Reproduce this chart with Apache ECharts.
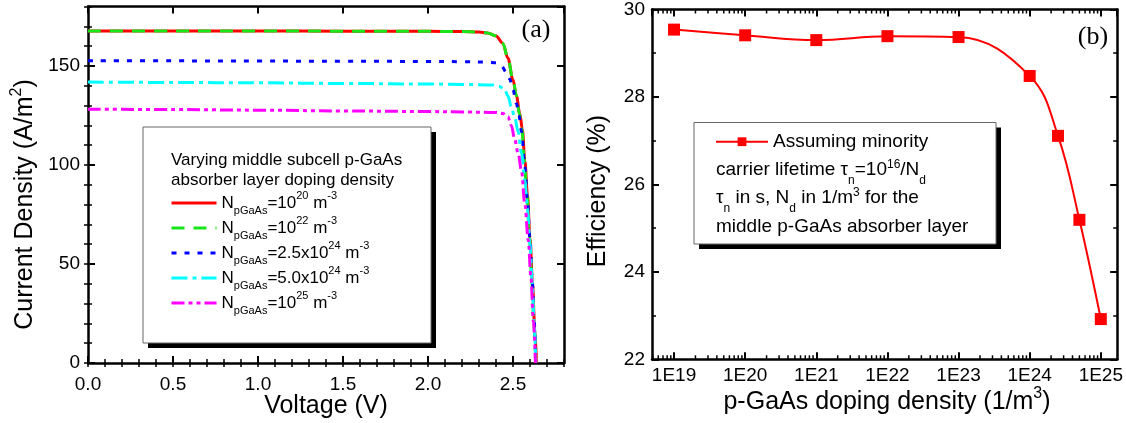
<!DOCTYPE html>
<html>
<head>
<meta charset="utf-8">
<script src="https://cdn.jsdelivr.net/npm/echarts@6.0.0/dist/echarts.min.js"></script>
<style>
html,body{margin:0;padding:0;background:#fff;}
#chart{width:1126px;height:423px;}
</style>
</head>
<body>
<div id="chart"></div>
<script>
// ---------------- Panel (a): J-V curves ----------------
const vRed   = [0, 0.5, 1.0, 1.5, 2.0, 2.2, 2.3, 2.35, 2.40, 2.44, 2.47, 2.50, 2.52, 2.54, 2.555, 2.57, 2.585, 2.60, 2.615, 2.627, 2.638];
const jRed   = [167.7, 167.7, 167.7, 167.6, 167.5, 167.4, 167.2, 166.7, 165.2, 161.5, 154, 143, 135, 126, 118, 102, 85, 63, 40, 19, 0];
const vGreen = [0, 0.5, 1.0, 1.5, 2.0, 2.2, 2.3, 2.35, 2.40, 2.44, 2.47, 2.50, 2.52, 2.537, 2.552, 2.567, 2.582, 2.597, 2.611, 2.623, 2.634];
const jGreen = [167.7, 167.7, 167.7, 167.6, 167.5, 167.4, 167.2, 166.7, 165.2, 161.5, 154, 143, 135, 126, 118, 102, 85, 63, 40, 19, 0];
const vBlue  = [0, 0.5, 1.0, 1.5, 2.0, 2.2, 2.35, 2.40, 2.43, 2.46, 2.48, 2.50, 2.52, 2.535, 2.55, 2.57, 2.585, 2.60, 2.613, 2.624, 2.634];
const jBlue  = [152.7, 152.6, 152.5, 152.4, 152.3, 152.2, 152.0, 151.6, 150.3, 147, 143.5, 138, 131, 125, 117, 99, 82, 62, 42, 22, 0];
const vCyan  = [0, 0.5, 1.0, 1.5, 2.0, 2.2, 2.38, 2.42, 2.45, 2.47, 2.49, 2.51, 2.53, 2.55, 2.57, 2.585, 2.60, 2.613, 2.624, 2.634];
const jCyan  = [141.9, 141.7, 141.5, 141.2, 140.9, 140.7, 140.4, 139.7, 138.3, 135, 129.5, 124, 117, 106, 92, 78, 60, 41, 21, 0];
const vMag   = [0, 0.5, 1.0, 1.5, 2.0, 2.2, 2.40, 2.44, 2.47, 2.49, 2.51, 2.53, 2.55, 2.57, 2.59, 2.605, 2.62, 2.632];
const jMag   = [128.2, 128.0, 127.7, 127.3, 127.0, 126.8, 126.5, 126.0, 124.5, 120, 113, 106, 97, 80, 62, 44, 21, 0];

const seriesNamesA = ['N1e20', 'N1e22', 'N2.5e24', 'N5.0e24', 'N1e25'];
const legendLabelsA = [
  '{n|N}{sub|pGaAs}{n|=10}{sup|20}{n| m}{sup|-3}',
  '{n|N}{sub|pGaAs}{n|=10}{sup|22}{n| m}{sup|-3}',
  '{n|N}{sub|pGaAs}{n|=2.5x10}{sup|24}{n| m}{sup|-3}',
  '{n|N}{sub|pGaAs}{n|=5.0x10}{sup|24}{n| m}{sup|-3}',
  '{n|N}{sub|pGaAs}{n|=10}{sup|25}{n| m}{sup|-3}'
];
const legendTitleA = 'Varying middle subcell p-GaAs\nabsorber layer doping density';
const voltageTickLabels = ['0.0', '0.5', '1.0', '1.5', '2.0', '2.5'];
const currentTickLabels = ['0', '50', '100', '150'];

// ---------------- Panel (b): efficiency vs doping ----------------
const dopingDensity = [1e19, 1e20, 1e21, 1e22, 1e23, 1e24, 2.5e24, 5e24, 1e25];
const efficiency    = [29.54, 29.41, 29.30, 29.39, 29.37, 28.48, 27.11, 25.19, 22.92];
const seriesNameB = 'Assuming minority';
const legendLinesB = [
  '{t|carrier lifetime τ}{s|n}{t|=10}{p|16}{t|/N}{s|d}',
  '{t|τ}{s|n}{t| in s, N}{s|d}{t| in 1/m}{p|3}{t| for the}',
  '{t|middle p-GaAs absorber layer}'
];
const dopingTickLabels = ['1E19', '1E20', '1E21', '1E22', '1E23', '1E24', '1E25'];
const efficiencyTickLabels = ['22', '24', '26', '28', '30'];

// ---------------- styling ----------------
const F = 'Liberation Sans, Arial, sans-serif';
const SERIF = 'Liberation Serif, Times New Roman, serif';
const BLACK = '#000';
const colorsA = ['#ff0000', '#19e619', '#0000ff', '#00ffff', '#ff00ff'];
const dashA = ['solid', [13, 9], [5, 8], [16, 5, 4, 5], [13, 4, 4, 4, 4, 4]];

function labelFor(v, start, step, labels) {
  const i = Math.round((v - start) / step);
  if (Math.abs(v - (start + i * step)) > 1e-6 || i < 0 || i >= labels.length) return '';
  return labels[i];
}
const axisLine = { show: true, onZero: false, lineStyle: { color: BLACK, width: 2.5 } };
const majorTick = { show: true, inside: true, length: 7, lineStyle: { color: BLACK, width: 2 } };
const minorTickAxis = { show: true, inside: true, length: 4, lineStyle: { color: BLACK, width: 1.5 } };
const hidden = { show: false };

const chart = echarts.init(document.getElementById('chart'), null, { renderer: 'canvas' });

const A_MIN_X = 0, A_MAX_X = 2.8, A_MIN_Y = 0, A_MAX_Y = 180;
const B_MIN_X = 4.9e18, B_MAX_X = 1.7e25, B_MIN_Y = 22, B_MAX_Y = 30;

function aX(pos, interval, major, label) {
  return {
    gridIndex: 0, type: 'value', min: A_MIN_X, max: A_MAX_X, interval: interval, position: pos,
    axisLine: major ? axisLine : hidden, axisTick: major ? majorTick : minorTickAxis,
    splitLine: hidden, minorTick: hidden,
    axisLabel: label ? { show: true, margin: 12, fontSize: 19, fontFamily: F, color: BLACK, showMaxLabel: false,
      formatter: v => labelFor(v, 0, 0.5, voltageTickLabels) } : hidden
  };
}
function aY(pos, interval, major, label) {
  return {
    gridIndex: 0, type: 'value', min: A_MIN_Y, max: A_MAX_Y, interval: interval, position: pos,
    axisLine: major ? axisLine : hidden, axisTick: major ? majorTick : minorTickAxis,
    splitLine: hidden, minorTick: hidden,
    axisLabel: label ? { show: true, margin: 8, fontSize: 19, fontFamily: F, color: BLACK, showMaxLabel: false,
      formatter: v => labelFor(v, 0, 50, currentTickLabels) } : hidden
  };
}
function bX(pos, label) {
  return {
    gridIndex: 1, type: 'log', logBase: 10, min: B_MIN_X, max: B_MAX_X, position: pos,
    axisLine: axisLine, axisTick: majorTick, splitLine: hidden, minorTick: hidden,
    axisLabel: label ? { show: true, margin: 7, fontSize: 19, fontFamily: F, color: BLACK,
      showMinLabel: false, showMaxLabel: false,
      formatter: v => {
        const l = Math.log10(v), r = Math.round(l);
        if (Math.abs(l - r) > 0.01) return '';
        return dopingTickLabels[r - 19] || '';
      } } : hidden
  };
}
function bY(pos, label) {
  return {
    gridIndex: 1, type: 'value', min: B_MIN_Y, max: B_MAX_Y, interval: 2, position: pos,
    axisLine: axisLine, axisTick: majorTick, splitLine: hidden,
    minorTick: { show: true, splitNumber: 2, length: 4, lineStyle: { color: BLACK, width: 1.5 } },
    axisLabel: label ? { show: true, margin: 7, fontSize: 19, fontFamily: F, color: BLACK,
      formatter: v => labelFor(v, 22, 2, efficiencyTickLabels) } : hidden
  };
}

const seriesA = [[vRed, jRed], [vGreen, jGreen], [vBlue, jBlue], [vCyan, jCyan], [vMag, jMag]].map((d, k) => ({
  type: 'line', name: seriesNamesA[k], xAxisIndex: 0, yAxisIndex: 0,
  data: d[0].map((v, i) => [v, d[1][i]]),
  symbol: 'none', showSymbol: false, smooth: 0.35, smoothMonotone: 'x',
  lineStyle: { color: colorsA[k], width: 3, type: dashA[k] },
  itemStyle: { color: colorsA[k] },
  emphasis: { disabled: true }, z: 2 + k
}));

const seriesB = {
  type: 'line', name: seriesNameB, xAxisIndex: 4, yAxisIndex: 4,
  data: dopingDensity.map((x, i) => [x, efficiency[i]]),
  symbol: 'rect', symbolSize: 12, smooth: 0.4,
  lineStyle: { color: '#ff0000', width: 2 },
  itemStyle: { color: '#ff0000' },
  emphasis: { disabled: true }, clip: false
};

const legendRichA = {
  n: { fontSize: 17, fontFamily: F, color: BLACK, verticalAlign: 'middle' },
  sub: { fontSize: 11, fontFamily: F, color: BLACK, padding: [16, 0, 0, 0], verticalAlign: 'middle' },
  sup: { fontSize: 11, fontFamily: F, color: BLACK, padding: [0, 0, 14, 0], verticalAlign: 'middle' }
};

const option = {
  animation: false,
  backgroundColor: '#ffffff',
  grid: [
    { left: 88, top: 6.6, width: 476, height: 356.4, containLabel: false, show: false },
    { left: 652, top: 7.3, width: 468, height: 352, containLabel: false, show: false }
  ],
  xAxis: [aX('bottom', 0.5, true, true), aX('bottom', 0.1, false, false), aX('top', 0.5, true, false), aX('top', 0.1, false, false),
          bX('bottom', true), bX('top', false)],
  yAxis: [aY('left', 50, true, true), aY('left', 10, false, false), aY('right', 50, true, false), aY('right', 10, false, false),
          bY('left', true), bY('right', false)],
  legend: [
    {
      data: seriesNamesA, orient: 'vertical', left: 170, top: 190.5, padding: 0, itemGap: -1,
      itemWidth: 45, itemHeight: 14, selectedMode: false,
      itemStyle: { opacity: 0 }, lineStyle: { width: 3 },
      formatter: name => legendLabelsA[seriesNamesA.indexOf(name)],
      textStyle: { rich: legendRichA, fontSize: 17, fontFamily: F, color: BLACK }
    },
    {
      data: [seriesNameB], orient: 'vertical', left: 715, top: 131.7, padding: 0,
      itemWidth: 52, itemHeight: 11, selectedMode: false,
      lineStyle: { width: 2 },
      textStyle: { fontSize: 19, lineHeight: 20, fontFamily: F, color: BLACK }
    }
  ],
  series: seriesA.concat([seriesB])
};
chart.setOption(option);

// ---------- decorations (text boxes, titles, log minor ticks) ----------
const g = [];
// legend box (a)
g.push({ type: 'rect', shape: { x: 148, y: 132, width: 288, height: 216 }, style: { fill: '#000' }, silent: true });
g.push({ type: 'rect', shape: { x: 143, y: 127, width: 288, height: 216 }, style: { fill: '#fff', stroke: '#666', lineWidth: 1 }, silent: true });
g.push({ type: 'text', x: 171, y: 170, silent: true,
  style: { text: legendTitleA, fontSize: 17, fontFamily: F, fill: BLACK, lineHeight: 20, align: 'left', verticalAlign: 'middle' } });
// legend box (b)
g.push({ type: 'rect', shape: { x: 699, y: 127.5, width: 302, height: 121.5 }, style: { fill: '#000' }, silent: true });
g.push({ type: 'rect', shape: { x: 694, y: 122.5, width: 302, height: 121.5 }, style: { fill: '#fff', stroke: '#666', lineWidth: 1 }, silent: true });
const richB = {
  t: { fontSize: 19, fontFamily: F, fill: BLACK, verticalAlign: 'middle' },
  s: { fontSize: 12, fontFamily: F, fill: BLACK, padding: [22, 0, 0, 0], verticalAlign: 'middle' },
  p: { fontSize: 12, fontFamily: F, fill: BLACK, padding: [0, 0, 10, 0], verticalAlign: 'middle' }
};
legendLinesB.forEach((txt, i) => {
  g.push({ type: 'text', x: 716, y: 169.5 + 28.5 * i, silent: true,
    style: { text: txt, rich: richB, fontSize: 19, fontFamily: F, fill: BLACK, align: 'left', verticalAlign: 'middle' } });
});
// axis titles
const richTitle = {
  t: { fontSize: 25, fontFamily: F, fill: BLACK, verticalAlign: 'middle' },
  p: { fontSize: 16, fontFamily: F, fill: BLACK, padding: [0, 0, 16, 0], verticalAlign: 'middle' }
};
g.push({ type: 'text', x: 326, y: 406, silent: true,
  style: { text: 'Voltage (V)', fontSize: 25, fontFamily: F, fill: BLACK, align: 'center', verticalAlign: 'middle' } });
g.push({ type: 'text', x: 25, y: 204.5, rotation: Math.PI / 2, silent: true,
  style: { text: '{t|Current Density (A/m}{p|2}{t|)}', rich: richTitle, fontSize: 25, fontFamily: F, fill: BLACK, align: 'center', verticalAlign: 'middle' } });
g.push({ type: 'text', x: 887, y: 402, silent: true,
  style: { text: '{t|p-GaAs doping density (1/m}{p|3}{t|)}', rich: richTitle, fontSize: 25, fontFamily: F, fill: BLACK, align: 'center', verticalAlign: 'middle' } });
g.push({ type: 'text', x: 598, y: 191, rotation: Math.PI / 2, silent: true,
  style: { text: 'Efficiency (%)', fontSize: 25, fontFamily: F, fill: BLACK, align: 'center', verticalAlign: 'middle' } });
// panel labels
g.push({ type: 'text', x: 536, y: 30.5, silent: true,
  style: { text: '(a)', fontSize: 26, fontFamily: SERIF, fill: BLACK, align: 'center', verticalAlign: 'middle' } });
g.push({ type: 'text', x: 1093, y: 37.5, silent: true,
  style: { text: '(b)', fontSize: 26, fontFamily: SERIF, fill: BLACK, align: 'center', verticalAlign: 'middle' } });
// log minor ticks on panel (b), positioned through the axis scale
for (let d = 18; d <= 25; d++) {
  for (let m = 2; m <= 9; m++) {
    const v = m * Math.pow(10, d);
    if (v <= B_MIN_X || v >= B_MAX_X) continue;
    const pb = chart.convertToPixel({ gridIndex: 1 }, [v, B_MIN_Y]);
    const pt = chart.convertToPixel({ gridIndex: 1 }, [v, B_MAX_Y]);
    g.push({ type: 'line', silent: true, shape: { x1: pb[0], y1: pb[1], x2: pb[0], y2: pb[1] - 4 }, style: { stroke: BLACK, lineWidth: 1.5 } });
    g.push({ type: 'line', silent: true, shape: { x1: pt[0], y1: pt[1], x2: pt[0], y2: pt[1] + 4 }, style: { stroke: BLACK, lineWidth: 1.5 } });
  }
}
chart.setOption({ graphic: { elements: g } });
</script>
</body>
</html>
